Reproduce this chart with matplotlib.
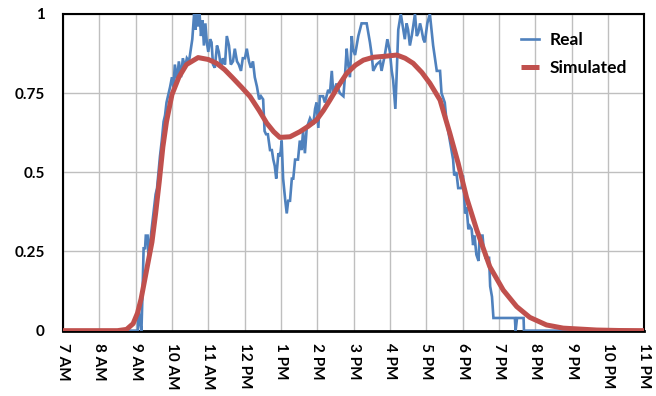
import matplotlib
matplotlib.use("Agg")
import matplotlib.pyplot as plt

# ---- data (hours of day, normalized power) ----
hour_ticks = list(range(7, 24))
hour_labels = ["7 AM", "8 AM", "9 AM", "10 AM", "11 AM", "12 PM", "1 PM", "2 PM",
               "3 PM", "4 PM", "5 PM", "6 PM", "7 PM", "8 PM", "9 PM", "10 PM", "11 PM"]
y_ticks = [0, 0.25, 0.5, 0.75, 1]
y_labels = ["0", "0.25", "0.5", "0.75", "1"]

real_h = [7.00, 9.06, 9.08, 9.12, 9.16, 9.19, 9.22, 9.26, 9.28, 9.33, 9.35, 9.39, 9.45, 9.50,
          9.55, 9.59, 9.63, 9.67, 9.72, 9.77, 9.81, 9.85, 9.89, 9.95, 10.00, 10.04, 10.08,
          10.14, 10.19, 10.25, 10.30, 10.36, 10.41, 10.47, 10.52, 10.56, 10.61, 10.65, 10.67,
          10.72, 10.76, 10.80, 10.84, 10.88, 10.92, 10.96, 11.00, 11.05, 11.09, 11.13, 11.18,
          11.24, 11.29, 11.35, 11.40, 11.46, 11.51, 11.57, 11.62, 11.68, 11.73, 11.79, 11.84,
          11.90, 11.95, 12.01, 12.06, 12.12, 12.17, 12.23, 12.28, 12.34, 12.40, 12.45, 12.51,
          12.55, 12.59, 12.64, 12.70, 12.75, 12.79, 12.83, 12.87, 12.93, 12.98, 13.02, 13.06,
          13.12, 13.16, 13.20, 13.25, 13.30, 13.34, 13.39, 13.47, 13.52, 13.57, 13.61, 13.66,
          13.71, 13.80, 13.89, 13.94, 13.98, 14.03, 14.07, 14.16, 14.21, 14.30, 14.35, 14.40,
          14.44, 14.53, 14.62, 14.72, 14.76, 14.81, 14.84, 14.90, 14.95, 14.98, 15.04, 15.13,
          15.22, 15.36, 15.45, 15.50, 15.54, 15.63, 15.73, 15.77, 15.86, 15.93, 16.00, 16.05,
          16.09, 16.15, 16.18, 16.23, 16.30, 16.37, 16.41, 16.46, 16.50, 16.55, 16.60, 16.64,
          16.69, 16.74, 16.78, 16.83, 16.87, 16.92, 16.96, 17.03, 17.10, 17.19, 17.29, 17.38,
          17.42, 17.51, 17.56, 17.65, 17.74, 17.77, 17.83, 17.88, 17.97, 18.01, 18.07, 18.11,
          18.16, 18.20, 18.25, 18.29, 18.33, 18.38, 18.44, 18.47, 18.55, 18.58, 18.63, 18.73,
          18.76, 18.81, 18.85, 19.44, 19.46, 19.50, 19.68, 19.69, 23.00]
real_v = [0, 0, 0.07, 0.03, 0.0, 0.12, 0.26, 0.26, 0.30, 0.30, 0.24, 0.27, 0.33, 0.38,
          0.43, 0.45, 0.50, 0.55, 0.60, 0.66, 0.68, 0.72, 0.74, 0.77, 0.80, 0.77, 0.84,
          0.79, 0.85, 0.80, 0.86, 0.83, 0.86, 0.85, 0.89, 0.92, 1.0, 0.95, 1.0,
          0.96, 1.0, 0.93, 0.98, 0.90, 0.97, 0.91, 0.88, 0.92, 0.91, 0.84, 0.83,
          0.90, 0.88, 0.83, 0.86, 0.84, 0.93, 0.90, 0.84, 0.85, 0.89, 0.85, 0.84,
          0.82, 0.86, 0.86, 0.89, 0.85, 0.83, 0.85, 0.80, 0.77, 0.73, 0.74, 0.73,
          0.63, 0.62, 0.62, 0.57, 0.57, 0.54, 0.52, 0.48, 0.56, 0.55, 0.60, 0.48,
          0.41, 0.37, 0.41, 0.41, 0.48, 0.48, 0.54, 0.54, 0.60, 0.57, 0.63, 0.56,
          0.64, 0.67, 0.65, 0.70, 0.72, 0.64, 0.74, 0.74, 0.72, 0.76, 0.75, 0.82,
          0.75, 0.78, 0.75, 0.74, 0.80, 0.89, 0.85, 0.80, 0.93, 0.89, 0.87, 0.93,
          0.97, 0.97, 0.91, 0.87, 0.82, 0.84, 0.85, 0.82, 0.87, 0.92, 0.88, 0.82,
          0.79, 0.70, 0.79, 0.95, 1.0, 0.95, 0.92, 0.97, 0.95, 0.90, 0.93, 0.96,
          1.0, 0.93, 0.94, 0.97, 0.95, 0.92, 0.91, 0.97, 1.0, 0.90, 0.82, 0.82,
          0.75, 0.72, 0.66, 0.60, 0.54, 0.49, 0.50, 0.45, 0.45, 0.49, 0.37, 0.39,
          0.32, 0.33, 0.32, 0.27, 0.30, 0.24, 0.22, 0.30, 0.30, 0.26, 0.23, 0.23,
          0.14, 0.107, 0.04, 0.04, 0.0, 0.04, 0.04, 0.0, 0]

sim_h = [7.00, 8.00, 8.50, 8.75, 8.93, 9.05, 9.15, 9.25, 9.35, 9.45, 9.55, 9.65, 9.75,
         9.85, 10.00, 10.19, 10.40, 10.72, 11.00, 11.23, 11.45, 11.68, 11.92, 12.15,
         12.40, 12.61, 12.80, 12.97, 13.25, 13.52, 13.75, 13.98, 14.17, 14.35, 14.58,
         14.81, 15.05, 15.27, 15.54, 15.85, 16.19, 16.42, 16.64, 16.88, 17.10, 17.38,
         17.65, 17.88, 18.11, 18.39, 18.75, 19.12, 19.49, 19.85, 20.31, 20.77, 21.69,
         22.30, 23.00]
sim_v = [0, 0, 0.0, 0.004, 0.022, 0.055, 0.10, 0.16, 0.22, 0.28, 0.37, 0.47, 0.58,
         0.66, 0.745, 0.80, 0.84, 0.862, 0.856, 0.844, 0.824, 0.797, 0.768, 0.739,
         0.695, 0.655, 0.628, 0.610, 0.612, 0.628, 0.645, 0.665, 0.695, 0.728, 0.772,
         0.812, 0.838, 0.854, 0.863, 0.866, 0.870, 0.860, 0.844, 0.815, 0.781, 0.728,
         0.623, 0.528, 0.420, 0.318, 0.202, 0.128, 0.076, 0.042, 0.018, 0.008, 0.002,
         0.0005, 0]

# ---- styling ----
FONT = "Lato"
fig = plt.figure(figsize=(6.56, 3.96), dpi=100)
ax = fig.add_axes([0.096, 0.165, 0.886, 0.800])

ax.plot(real_h, real_v, color="#4F81BD", lw=1.9, label="Real", zorder=3,
        solid_joinstyle="miter")
ax.plot(sim_h, sim_v, color="#C0504D", lw=3.6, label="Simulated", zorder=4,
        solid_capstyle="butt")

ax.set_xlim(7, 23)
ax.set_ylim(0, 1)
ax.set_xticks(hour_ticks)
ax.set_xticklabels(hour_labels, rotation=-90, fontfamily=FONT, fontweight="bold",
                   fontsize=11, va="top", ha="center")
ax.set_yticks(y_ticks)
ax.set_yticklabels(y_labels, fontfamily=FONT, fontweight="bold", fontsize=11)
ax.tick_params(axis="x", length=0, pad=9)
ax.tick_params(axis="y", length=0, pad=13)

ax.grid(True, color="#BFBFBF", lw=1.0, zorder=0)
ax.set_axisbelow(True)
for s in ax.spines.values():
    s.set_color("black")
    s.set_linewidth(1.5)
ax.spines["bottom"].set_linewidth(2.0)

leg = ax.legend(loc="upper left", bbox_to_anchor=(0.762, 0.992), frameon=False,
                handlelength=1.0, handletextpad=0.6, labelspacing=0.7,
                prop={"family": FONT, "weight": "bold", "size": 12.5})

fig.savefig("out.png", dpi=100)
